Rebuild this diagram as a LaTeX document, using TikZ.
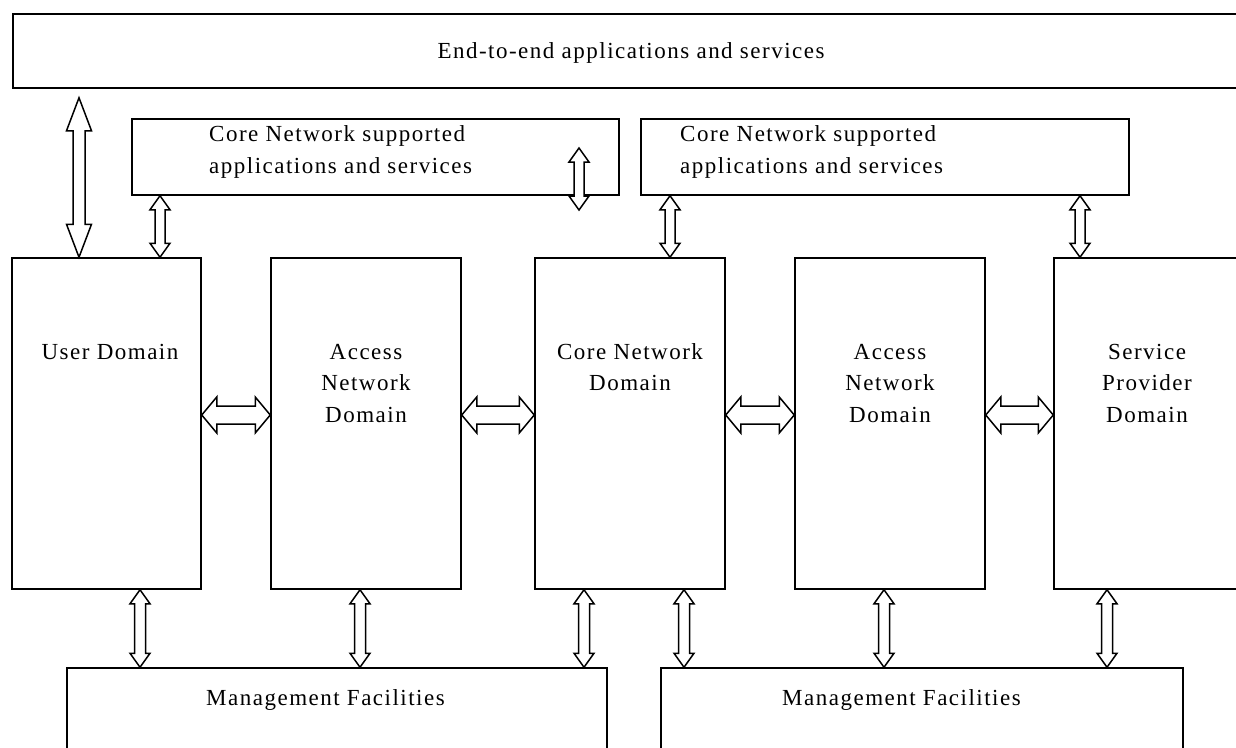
\documentclass[tikz,border=0pt]{standalone}
\usepackage{fontspec}
\setmainfont{Liberation Serif}[LetterSpace=6.5]
\usetikzlibrary{calc}

\tikzset{
  box/.style={draw, line width=1.5pt, rectangle, inner sep=0pt},
  lbl/.style={font=\fontsize{23}{31.5}\selectfont, inner sep=0pt, align=center},
  lbll/.style={font=\fontsize{23}{31.5}\selectfont, inner sep=0pt, align=left},
  blk/.style={draw, line width=1.5pt, fill=white, line join=miter},
}

% double-headed block arrow: start, end, half shaft, half head, head length
\newcommand\dblarrow[5]{%
  \draw[blk] let \p1=(#1), \p2=(#2),
    \n1={atan2(\y2-\y1,\x2-\x1)}, \n2={veclen(\x2-\x1,\y2-\y1)} in
    [shift={(\p1)}, rotate=\n1]
    (0,0) -- (#5,#4) -- (#5,#3) -- (\n2-#5,#3) -- (\n2-#5,#4) -- (\n2,0)
    -- (\n2-#5,-#4) -- (\n2-#5,-#3) -- (#5,-#3) -- (#5,-#4) -- cycle;}

\begin{document}
\begin{tikzpicture}[x=1pt, y=-1pt]
\useasboundingbox (0,0) rectangle (1236,747);
\clip (0,0) rectangle (1236,747);

% boxes
\node[box, minimum width=1247, minimum height=74] (top) at (636.5,51) {};
\node[box, minimum width=487, minimum height=76] (cn1) at (375.5,157) {};
\node[box, minimum width=488, minimum height=76] (cn2) at (885,157) {};
\node[box, minimum width=189, minimum height=331] (ud)  at (106.5,423.5) {};
\node[box, minimum width=190, minimum height=331] (an1) at (366,423.5) {};
\node[box, minimum width=190, minimum height=331] (cnd) at (630,423.5) {};
\node[box, minimum width=190, minimum height=331] (an2) at (890,423.5) {};
\node[box, minimum width=190, minimum height=331] (sp)  at (1149,423.5) {};
\node[box, minimum width=540, minimum height=122] (mf1) at (337,729) {};
\node[box, minimum width=522, minimum height=122] (mf2) at (922,729) {};

% labels (multi-line labels are placed by the baseline of their last line)
\node[lbl, anchor=base] (t-top) at (631,58) {End-to-end applications and services};
\node[lbll, anchor=base west] (t-cn1) at (209,173) {Core Network supported\\applications and services};
\node[lbll, anchor=base west] (t-cn2) at (680,173) {Core Network supported\\applications and services};
\node[lbl, anchor=base] (t-ud)  at (110,359) {User Domain};
\node[lbl, anchor=base] (t-an1) at (366,422) {Access\\Network\\Domain};
\node[lbl, anchor=base] (t-cnd) at (630,390.5) {Core Network\\Domain};
\node[lbl, anchor=base] (t-an2) at (890,422) {Access\\Network\\Domain};
\node[lbl, anchor=base] (t-sp)  at (1147,422) {Service\\Provider\\Domain};
\node[lbll, anchor=base west] (t-mf1) at (206,705) {Management Facilities};
\node[lbll, anchor=base west] (t-mf2) at (782,705) {Management Facilities};

% free-standing arrow in the first core-network box
\coordinate (fa-top) at (579,148);
\coordinate (fa-bot) at (579,210);

% vertical arrows, top part
\dblarrow{$(79,0 |- top.south)+(0,9)$}{79,0 |- ud.north}{6}{12.5}{33}
\dblarrow{160,0 |- cn1.south}{160,0 |- ud.north}{5}{10}{14}
\dblarrow{fa-top}{fa-bot}{5}{10}{14}
\dblarrow{670,0 |- cn2.south}{670,0 |- cnd.north}{5}{10}{14}
\dblarrow{1080,0 |- cn2.south}{1080,0 |- sp.north}{5}{10}{14}

% horizontal arrows between domains
\dblarrow{ud.east |- 0,415}{an1.west |- 0,415}{9}{18}{15}
\dblarrow{an1.east |- 0,415}{cnd.west |- 0,415}{9}{18}{15}
\dblarrow{cnd.east |- 0,415}{an2.west |- 0,415}{9}{18}{15}
\dblarrow{an2.east |- 0,415}{sp.west |- 0,415}{9}{18}{15}

% vertical arrows to management facilities
\dblarrow{140,0 |- ud.south}{140,0 |- mf1.north}{5.5}{10}{14}
\dblarrow{360,0 |- an1.south}{360,0 |- mf1.north}{5.5}{10}{14}
\dblarrow{584,0 |- cnd.south}{584,0 |- mf1.north}{5.5}{10}{14}
\dblarrow{684,0 |- cnd.south}{684,0 |- mf2.north}{5.5}{10}{14}
\dblarrow{884,0 |- an2.south}{884,0 |- mf2.north}{5.5}{10}{14}
\dblarrow{1107,0 |- sp.south}{1107,0 |- mf2.north}{5.5}{10}{14}
\end{tikzpicture}
\end{document}
